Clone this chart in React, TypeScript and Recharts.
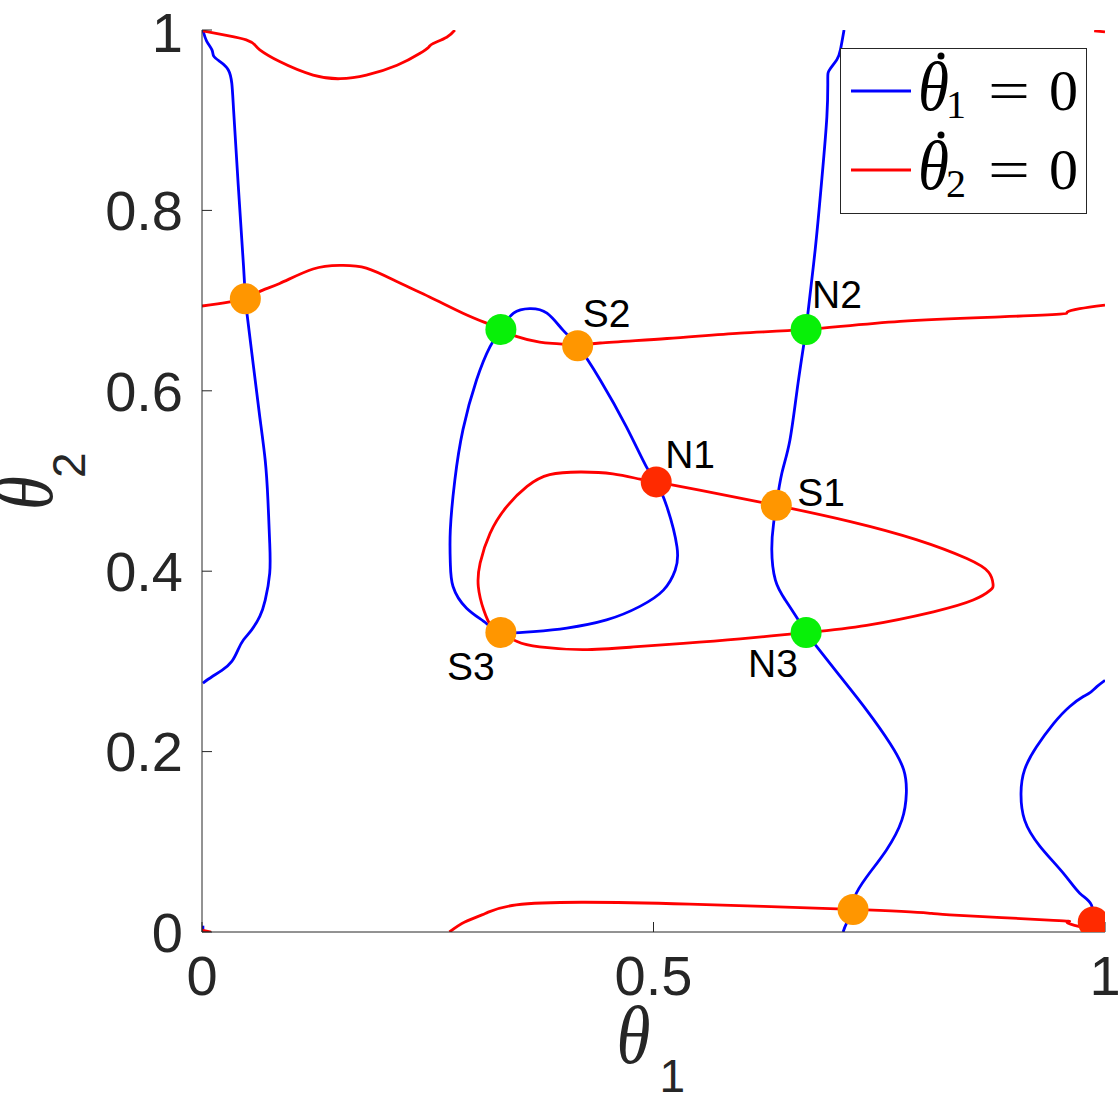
import React from "react";
import { ComposedChart, Line, Scatter, XAxis, YAxis, Legend } from "recharts";

type Pt = [number, number];

// theta1-dot = 0 nullcline (blue), traced piece by piece
const blueLeft: Pt[] = [
  [0.001, 1.0], [0.005, 0.988], [0.011, 0.978], [0.013, 0.971], [0.02, 0.965],
  [0.029, 0.956], [0.033, 0.941], [0.035, 0.911], [0.04, 0.83], [0.046, 0.738],
  [0.048, 0.702], [0.05, 0.684], [0.057, 0.627], [0.064, 0.571], [0.07, 0.523],
  [0.073, 0.479], [0.075, 0.431], [0.075, 0.398], [0.07, 0.368], [0.064, 0.35],
  [0.055, 0.335], [0.046, 0.324], [0.04, 0.313], [0.033, 0.3], [0.022, 0.29],
  [0.011, 0.283], [0.001, 0.276],
];
const blueLoop: Pt[] = [
  [0.331, 0.668], [0.345, 0.686], [0.363, 0.691], [0.382, 0.686], [0.4, 0.667],
  [0.416, 0.65], [0.441, 0.612], [0.47, 0.56], [0.492, 0.516], [0.503, 0.499],
  [0.515, 0.471], [0.526, 0.427], [0.524, 0.401], [0.511, 0.379], [0.485, 0.361],
  [0.448, 0.346], [0.404, 0.337], [0.367, 0.333], [0.331, 0.332], [0.315, 0.342],
  [0.293, 0.359], [0.278, 0.383], [0.275, 0.409], [0.275, 0.446], [0.28, 0.501],
  [0.289, 0.557], [0.304, 0.612], [0.319, 0.649], [0.331, 0.668],
];
const blueMid: Pt[] = [
  [0.711, 1.0], [0.707, 0.978], [0.703, 0.967], [0.695, 0.956], [0.693, 0.945],
  [0.692, 0.904], [0.686, 0.83], [0.679, 0.756], [0.671, 0.686], [0.669, 0.668],
  [0.66, 0.608], [0.651, 0.545], [0.642, 0.508], [0.636, 0.473], [0.633, 0.453],
  [0.631, 0.424], [0.635, 0.39], [0.646, 0.368], [0.659, 0.348], [0.669, 0.332],
  [0.681, 0.316], [0.707, 0.283], [0.736, 0.246], [0.762, 0.209], [0.777, 0.18],
  [0.78, 0.154], [0.775, 0.124], [0.758, 0.091], [0.736, 0.061], [0.723, 0.039],
  [0.721, 0.025], [0.714, 0.01], [0.71, 0.0],
];
const blueRight: Pt[] = [
  [1.0, 0.279], [0.991, 0.272], [0.983, 0.265], [0.976, 0.261], [0.961, 0.25],
  [0.943, 0.231], [0.924, 0.205], [0.911, 0.18], [0.907, 0.154], [0.911, 0.124],
  [0.928, 0.095], [0.954, 0.065], [0.972, 0.043], [0.985, 0.03], [0.987, 0.011],
  [0.992, 0.004],
];
const blueCorner: Pt[] = [[0.001, 0.007], [0.001, 0.0]];

// theta2-dot = 0 nullcline (red)
const redTop: Pt[] = [
  [0.001, 0.999], [0.027, 0.994], [0.049, 0.989], [0.059, 0.983], [0.064, 0.978],
  [0.086, 0.965], [0.123, 0.95], [0.153, 0.946], [0.182, 0.95], [0.216, 0.961],
  [0.241, 0.974], [0.251, 0.981], [0.256, 0.985], [0.271, 0.992], [0.28, 1.0],
];
const redUpper: Pt[] = [
  [0.0, 0.694], [0.048, 0.702], [0.064, 0.71], [0.086, 0.719], [0.123, 0.735],
  [0.153, 0.739], [0.182, 0.736], [0.218, 0.72], [0.252, 0.704], [0.289, 0.686],
  [0.315, 0.675], [0.331, 0.668], [0.349, 0.66], [0.374, 0.654], [0.396, 0.652],
  [0.416, 0.65], [0.441, 0.653], [0.515, 0.658], [0.596, 0.664], [0.669, 0.668],
  [0.773, 0.677], [0.884, 0.682], [0.95, 0.685], [0.958, 0.687], [0.972, 0.691],
  [1.0, 0.695],
];
const redLoop: Pt[] = [
  [0.503, 0.499], [0.551, 0.49], [0.636, 0.473], [0.718, 0.455], [0.791, 0.435],
  [0.847, 0.414], [0.871, 0.399], [0.876, 0.386], [0.873, 0.379], [0.854, 0.368],
  [0.81, 0.355], [0.736, 0.34], [0.669, 0.332], [0.596, 0.325], [0.533, 0.32],
  [0.478, 0.316], [0.422, 0.313], [0.374, 0.316], [0.349, 0.322], [0.331, 0.332],
  [0.321, 0.338], [0.312, 0.357], [0.306, 0.383], [0.308, 0.409], [0.319, 0.442],
  [0.337, 0.471], [0.36, 0.494], [0.385, 0.507], [0.419, 0.51], [0.455, 0.508],
  [0.485, 0.502], [0.503, 0.499],
];
const redBottom: Pt[] = [
  [0.274, 0.0], [0.291, 0.011], [0.31, 0.019], [0.317, 0.022], [0.348, 0.03],
  [0.42, 0.033], [0.54, 0.031], [0.72, 0.025], [0.804, 0.021], [0.828, 0.019],
  [0.943, 0.013], [0.958, 0.011], [0.972, 0.006], [0.99, 0.002], [1.0, 0.0],
];
const redCornerBL: Pt[] = [[0.0, 0.002], [0.01, 0.0]];
const redCornerTR: Pt[] = [[0.988, 0.999], [1.0, 0.998]];

// fixed points
const pointX = [0.048, 0.331, 0.416, 0.669, 0.503, 0.636, 0.331, 0.669, 0.721, 0.987];
const pointY = [0.702, 0.668, 0.65, 0.668, 0.499, 0.473, 0.332, 0.332, 0.025, 0.011];
const pointNames = ["", "", "S2", "N2", "N1", "S1", "S3", "N3", "", ""];
const pointKinds = ["saddle", "stable", "saddle", "stable", "unstable", "saddle", "saddle", "stable", "saddle", "unstable"];

const xTicks = [0, 0.5, 1];
const yTicks = [0, 0.2, 0.4, 0.6, 0.8, 1];
const legendSubs = ["1", "2"];

const BLUE = "#0000ff";
const RED = "#ff0000";
const AXIS = "#262626";
const LINE_W = 2.8;
const KIND_COLOR: Record<string, string> = {
  saddle: "#ff9600",
  stable: "#08f008",
  unstable: "#ff2a00",
};
// text start / baseline offsets from the dot centre
const LABEL_OFFSET: Record<string, [number, number]> = {
  S2: [5, -19],
  N2: [6, -21],
  N1: [9, -14],
  S1: [21, 1],
  S3: [-54, 47],
  N3: [-58, 44],
};

const toRows = (pts: Pt[]) => pts.map(([x, y]) => ({ x, y }));

const blueCurves = [blueLeft, blueLoop, blueMid, blueRight, blueCorner];
const redCurves = [redTop, redUpper, redLoop, redBottom, redCornerBL, redCornerTR];

const fixedPoints = pointX.map((x, i) => ({
  x,
  y: pointY[i],
  name: pointNames[i],
  kind: pointKinds[i],
}));

const SANS = "'Liberation Sans', Arial, Helvetica, sans-serif";
const SERIF = "'Liberation Serif', 'Times New Roman', serif";

const FixedPointShape = (props: any) => {
  const { cx, cy, payload } = props;
  const off = LABEL_OFFSET[payload.name];
  return (
    <g>
      <circle cx={cx} cy={cy} r={15.5} fill={KIND_COLOR[payload.kind]} />
      {off && (
        <text x={cx + off[0]} y={cy + off[1]} fontFamily={SANS} fontSize={39} fill="#000">
          {payload.name}
        </text>
      )}
    </g>
  );
};

const XLabel = (props: any) => {
  const vb = props.viewBox || { x: 202, y: 932, width: 903, height: 168 };
  const cx = vb.x + vb.width / 2;
  return (
    <g fill={AXIS}>
      <text
        x={cx - 37}
        y={vb.y + 131}
        fontFamily={SERIF}
        fontStyle="italic"
        fontSize={82}
        textLength={34}
        lengthAdjust="spacingAndGlyphs"
      >
        θ
      </text>
      <text x={cx + 6} y={vb.y + 160} fontFamily={SANS} fontSize={46}>
        1
      </text>
    </g>
  );
};

const YLabel = (props: any) => {
  const vb = props.viewBox || { x: 0, y: 30, width: 202, height: 902 };
  const cy = vb.y + vb.height / 2;
  return (
    <g fill={AXIS} transform={`translate(${vb.x + 52}, ${cy + 29}) rotate(-90)`}>
      <text
        x={0}
        y={0}
        fontFamily={SERIF}
        fontStyle="italic"
        fontSize={82}
        textLength={34}
        lengthAdjust="spacingAndGlyphs"
      >
        θ
      </text>
      <text x={32} y={33} fontFamily={SANS} fontSize={46}>
        2
      </text>
    </g>
  );
};

const LegendBox = () => (
  <svg width={248} height={167} style={{ display: "block" }}>
    <rect x={0.5} y={0.5} width={246} height={165} fill="#fff" stroke={AXIS} strokeWidth={1} />
    {legendSubs.map((sub, i) => {
      const y = 43 + i * 79;
      return (
        <g key={sub}>
          <line x1={11} x2={71} y1={y} y2={y} stroke={i === 0 ? BLUE : RED} strokeWidth={LINE_W} />
          <text
            x={78}
            y={y + 19}
            fontFamily={SERIF}
            fontStyle="italic"
            fontSize={70}
            textLength={31}
            lengthAdjust="spacingAndGlyphs"
            fill="#000"
          >
            θ
          </text>
          <circle cx={101} cy={y - 35} r={3.5} fill="#000" />
          <text x={106} y={y + 27} fontFamily={SERIF} fontSize={40} fill="#000">
            {sub}
          </text>
          <text
            x={148}
            y={y + 19}
            fontFamily={SERIF}
            fontSize={58}
            textLength={42}
            lengthAdjust="spacingAndGlyphs"
            fill="#000"
          >
            =
          </text>
          <text x={209} y={y + 19} fontFamily={SERIF} fontSize={58} fill="#000">
            0
          </text>
        </g>
      );
    })}
  </svg>
);

const tickStyle = { fontSize: 56, fill: AXIS, fontFamily: SANS };

export default function App() {
  return (
    <div style={{ width: 1120, height: 1100, background: "#fff" }}>
      <style>{"body{margin:0;background:#fff}"}</style>
      <ComposedChart width={1120} height={1100} margin={{ top: 30, right: 15, bottom: 0, left: 0 }}>
        <XAxis
          xAxisId="b"
          type="number"
          dataKey="x"
          domain={[0, 1]}
          ticks={xTicks}
          allowDataOverflow
          height={168}
          tickSize={-10}
          tickMargin={33}
          tick={tickStyle}
          axisLine={{ stroke: AXIS }}
          tickLine={{ stroke: AXIS }}
          label={<XLabel />}
        />
        <XAxis
          xAxisId="t"
          orientation="top"
          type="number"
          domain={[0, 1]}
          ticks={xTicks}
          allowDataOverflow
          height={0}
          tickSize={-10}
          tick={false}
          axisLine={{ stroke: AXIS }}
          tickLine={{ stroke: AXIS }}
        />
        <YAxis
          yAxisId="l"
          type="number"
          dataKey="y"
          domain={[0, 1]}
          ticks={yTicks}
          allowDataOverflow
          width={202}
          tickSize={-10}
          tickMargin={29}
          tick={tickStyle}
          axisLine={{ stroke: AXIS }}
          tickLine={{ stroke: AXIS }}
          label={<YLabel />}
        />
        <YAxis
          yAxisId="r"
          orientation="right"
          type="number"
          domain={[0, 1]}
          ticks={yTicks}
          allowDataOverflow
          width={0}
          tickSize={-10}
          tick={false}
          axisLine={{ stroke: AXIS }}
          tickLine={{ stroke: AXIS }}
        />
        {blueCurves.map((c, i) => (
          <Line
            key={`b${i}`}
            xAxisId="b"
            yAxisId="l"
            data={toRows(c)}
            dataKey="y"
            type={c.length > 2 ? "natural" : "linear"}
            stroke={BLUE}
            strokeWidth={LINE_W}
            dot={false}
            activeDot={false}
            isAnimationActive={false}
            legendType="none"
          />
        ))}
        {redCurves.map((c, i) => (
          <Line
            key={`r${i}`}
            xAxisId="b"
            yAxisId="l"
            data={toRows(c)}
            dataKey="y"
            type={c.length > 2 ? "natural" : "linear"}
            stroke={RED}
            strokeWidth={LINE_W}
            dot={false}
            activeDot={false}
            isAnimationActive={false}
            legendType="none"
          />
        ))}
        <Scatter
          xAxisId="b"
          yAxisId="l"
          data={fixedPoints}
          dataKey="y"
          shape={FixedPointShape}
          isAnimationActive={false}
          legendType="none"
        />
        <Legend
          layout="horizontal"
          align="center"
          verticalAlign="middle"
          wrapperStyle={{ left: 840, top: 48, width: 248, height: 167 }}
          content={LegendBox}
        />
      </ComposedChart>
    </div>
  );
}
